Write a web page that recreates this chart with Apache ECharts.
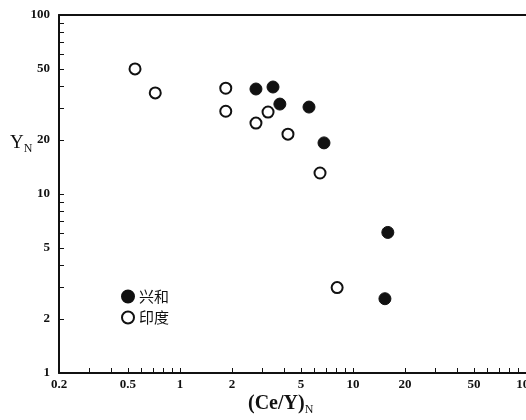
<!DOCTYPE html>
<html>
<head>
<meta charset="utf-8">
<script src="https://cdn.jsdelivr.net/npm/echarts@6/dist/echarts.min.js"></script>
<style>
html, body { margin: 0; padding: 0; background: #fff; }
#chart { width: 526px; height: 420px; }
</style>
</head>
<body>
<div id="chart"></div>
<script>
// 兴和 (filled)
var xingheX = [2.75, 3.45, 3.78, 5.57, 6.8, 15.9, 15.3];
var xingheY = [38.6, 39.6, 31.8, 30.6, 19.3, 6.1, 2.6];
// 印度 (hollow)
var yinduX = [0.55, 0.72, 1.84, 1.84, 3.23, 2.75, 4.21, 6.45, 8.1];
var yinduY = [50, 36.7, 39, 29, 28.7, 24.9, 21.6, 13.1, 3.0];

var xLabels = [0.2, 0.5, 1, 2, 5, 10, 20, 50, 100];
var yLabels = [1, 2, 5, 10, 20, 50, 100];
var xTicks = [0.2, 0.3, 0.4, 0.5, 0.6, 0.7, 0.8, 0.9, 1, 2, 3, 4, 5, 6, 7, 8, 9, 10,
    20, 30, 40, 50, 60, 70, 80, 90, 100];
var yTicks = [1, 2, 3, 4, 5, 6, 7, 8, 9, 10, 20, 30, 40, 50, 60, 70, 80, 90, 100];

function lg(v) { return Math.log10(v); }
function pairs(xs, ys) {
    return xs.map(function (x, i) { return [lg(x), lg(ys[i])]; });
}
function fmt(v) { return String(+Math.pow(10, v).toPrecision(2)); }

var labelFont = { color: "#111", fontFamily: "Liberation Serif", fontWeight: "bold", fontSize: 13 };
var lineStyle = { color: "#111", width: 2 };

var chart = echarts.init(document.getElementById("chart"));
chart.setOption({
    animation: false,
    grid: { left: 59, right: 0, top: 15, bottom: 47, outerBoundsMode: "none" },
    legend: {
        orient: "vertical",
        left: 116,
        top: 284,
        itemWidth: 12,
        itemHeight: 12,
        itemGap: 6,
        icon: "circle",
        textStyle: { fontFamily: "Noto Sans CJK SC", fontSize: 15, color: "#111" },
        data: ["兴和", "印度"]
    },
    xAxis: [{
        type: "value",
        min: lg(0.2),
        max: 2,
        axisLine: { onZero: false, lineStyle: lineStyle },
        splitLine: { show: false },
        axisTick: { inside: true, length: 5, customValues: xTicks.map(lg), lineStyle: { color: "#111" } },
        axisLabel: Object.assign({ customValues: xLabels.map(lg), formatter: fmt, margin: 5 }, labelFont)
    }, {
        type: "value",
        position: "top",
        min: lg(0.2),
        max: 2,
        axisLine: { show: true, onZero: false, lineStyle: lineStyle },
        axisTick: { show: false },
        axisLabel: { show: false },
        splitLine: { show: false }
    }],
    yAxis: {
        type: "value",
        min: 0,
        max: 2,
        axisLine: { onZero: false, lineStyle: lineStyle },
        splitLine: { show: false },
        axisTick: { inside: true, length: 5, customValues: yTicks.map(lg), lineStyle: { color: "#111" } },
        axisLabel: Object.assign({ customValues: yLabels.map(lg), formatter: fmt, margin: 9 }, labelFont)
    },
    graphic: [{
        type: "text",
        left: 10,
        top: 134,
        style: {
            text: "{a|Y}{b|N}",
            rich: {
                a: { fontFamily: "Liberation Serif", fontSize: 19, fill: "#111" },
                b: { fontFamily: "Liberation Serif", fontSize: 12, fill: "#111", padding: [10, 0, 0, 0] }
            }
        }
    }, {
        type: "text",
        left: 248,
        top: 394,
        style: {
            text: "{a|(Ce/Y)}{b|N}",
            rich: {
                a: { fontFamily: "Liberation Serif", fontWeight: "bold", fontSize: 20, fill: "#111" },
                b: { fontFamily: "Liberation Serif", fontSize: 12, fill: "#111", padding: [12, 0, 0, 0] }
            }
        }
    }],
    series: [{
        name: "兴和",
        type: "scatter",
        symbolSize: 12,
        itemStyle: { color: "#111", borderColor: "#111", borderWidth: 1, opacity: 1 },
        data: pairs(xingheX, xingheY)
    }, {
        name: "印度",
        type: "scatter",
        symbolSize: 11,
        itemStyle: { color: "#fff", borderColor: "#111", borderWidth: 2, opacity: 1 },
        data: pairs(yinduX, yinduY)
    }]
});
</script>
</body>
</html>
